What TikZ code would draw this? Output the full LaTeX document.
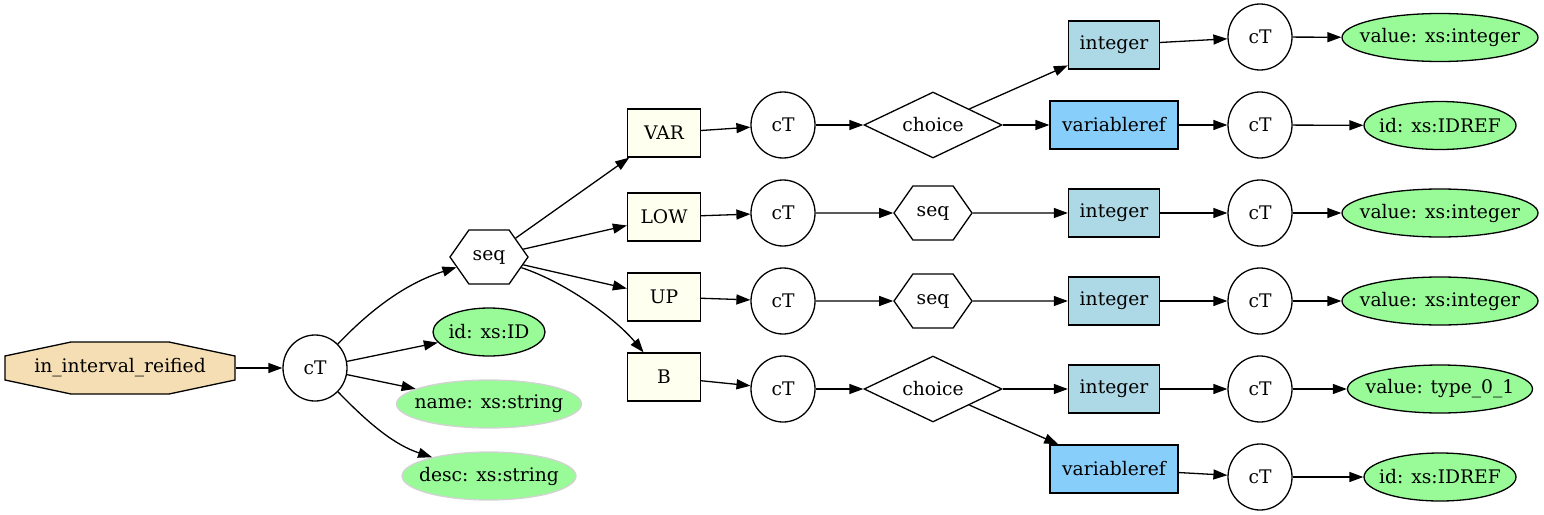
\documentclass[tikz,border=0pt]{standalone}
\usepackage{fontspec}
\setmainfont{DejaVu Serif}
\usetikzlibrary{shapes.geometric,shapes.symbols,arrows.meta}
\definecolor{wheatc}{HTML}{F5DEB3}
\definecolor{ivoryc}{HTML}{FFFFF0}
\definecolor{lightbluec}{HTML}{ADD8E6}
\definecolor{skybluec}{HTML}{87CEFA}
\definecolor{palegreenc}{HTML}{98FB98}
\definecolor{lightgrayc}{HTML}{D3D3D3}
\newcommand{\zb}[1]{\makebox[0pt][c]{#1}}
\begin{document}
\begin{tikzpicture}[x=1pt,y=-1pt,
  every node/.style={font=\fontsize{18.7pt}{22pt}\selectfont, inner sep=0pt, line width=1.3pt},
  ctnode/.style={ellipse, draw, minimum width=64pt, minimum height=66pt},
  hexnode/.style={signal, signal to=east and west, signal pointer angle=110, draw, minimum width=78pt, minimum height=54pt},
  choicenode/.style={diamond, draw, aspect=2.1, minimum width=138pt, minimum height=66pt},
  elemnode/.style={rectangle, draw, fill=ivoryc, minimum width=73pt, minimum height=48pt},
  intnode/.style={rectangle, draw, fill=lightbluec, minimum width=91pt, minimum height=48pt},
  refnode/.style={rectangle, draw, fill=skybluec, minimum width=128pt, minimum height=48pt},
  attrnode/.style={ellipse, draw, fill=palegreenc, minimum height=48pt},
  optattr/.style={ellipse, draw=lightgrayc, fill=palegreenc, minimum height=48pt},
  rootnode/.style={rectangle, minimum width=230pt, minimum height=52pt},
  edge/.style={draw, line width=1.3pt, -{Triangle[length=14pt,width=10pt]}}]
\useasboundingbox (0,0) rectangle (1544,514);

% root octagon
\filldraw[fill=wheatc, line width=1.3pt] (5,356) -- (71,342) -- (169,342) -- (235,356) -- (235,380) -- (169,394) -- (71,394) -- (5,380) -- cycle;
\node[rootnode] (root) at (120,368) {in\_interval\_reified};

\node[ctnode] (ct0) at (315,368) {cT};
\node[hexnode] (seqA) at (489,257) {seq};
\node[attrnode, minimum width=112pt] (aid) at (489,332) {\zb{id: xs:ID}};
\node[optattr, minimum width=185pt] (aname) at (489,404) {\zb{name: xs:string}};
\node[optattr, minimum width=174pt] (adesc) at (489,476) {\zb{desc: xs:string}};

\node[elemnode] (var) at (664,133) {VAR};
\node[elemnode] (low) at (664,217) {LOW};
\node[elemnode] (up) at (664,297) {UP};
\node[elemnode] (bb) at (664,377) {B};

\node[ctnode] (cvar) at (783,125) {cT};
\node[ctnode] (clow) at (783,213) {cT};
\node[ctnode] (cup) at (783,301) {cT};
\node[ctnode] (cbb) at (783,389) {cT};

\node[choicenode] (choiceA) at (933,125) {choice};
\node[hexnode] (seqB) at (933,213) {seq};
\node[hexnode] (seqC) at (933,301) {seq};
\node[choicenode] (choiceB) at (933,389) {choice};

\node[intnode] (intA) at (1114,45) {integer};
\node[refnode] (refA) at (1114,125) {variableref};
\node[intnode] (intB) at (1114,213) {integer};
\node[intnode] (intC) at (1114,301) {integer};
\node[intnode] (intD) at (1114,389) {integer};
\node[refnode] (refB) at (1114,469) {variableref};

\node[ctnode] (cintA) at (1260,37) {cT};
\node[ctnode] (crefA) at (1260,125) {cT};
\node[ctnode] (cintB) at (1260,213) {cT};
\node[ctnode] (cintC) at (1260,301) {cT};
\node[ctnode] (cintD) at (1260,389) {cT};
\node[ctnode] (crefB) at (1260,477) {cT};

\node[attrnode, minimum width=196pt] (vA) at (1440,37.5) {\zb{value: xs:integer}};
\node[attrnode, minimum width=152pt] (vrA) at (1440,125.5) {\zb{id: xs:IDREF}};
\node[attrnode, minimum width=196pt] (vB) at (1440,213) {\zb{value: xs:integer}};
\node[attrnode, minimum width=196pt] (vC) at (1440,301) {\zb{value: xs:integer}};
\node[attrnode, minimum width=185pt] (vD) at (1440,389) {\zb{value: type\_0\_1}};
\node[attrnode, minimum width=152pt] (vrB) at (1440,477) {\zb{id: xs:IDREF}};

% connectors
\path[edge] (root) -- (ct0);
\path[edge] (ct0) .. controls (375,305) and (410,282) .. (seqA);
\path[edge] (ct0) -- (aid);
\path[edge] (ct0) -- (aname);
\path[edge] (ct0) .. controls (370,425) and (395,445) .. (adesc);

\path[edge] (seqA) -- (var);
\path[edge] (seqA) -- (low);
\path[edge] (seqA) -- (up);
\path[edge] (seqA) .. controls (565,282) and (615,318) .. (bb);

\path[edge] (var) -- (cvar);
\path[edge] (low) -- (clow);
\path[edge] (up) -- (cup);
\path[edge] (bb) -- (cbb);

\path[edge] (cvar) -- (choiceA);
\path[edge] (clow) -- (seqB);
\path[edge] (cup) -- (seqC);
\path[edge] (cbb) -- (choiceB);

\path[edge] (choiceA) -- (intA);
\path[edge] (choiceA) -- (refA);
\path[edge] (seqB) -- (intB);
\path[edge] (seqC) -- (intC);
\path[edge] (choiceB) -- (intD);
\path[edge] (choiceB) -- (refB);

\path[edge] (intA) -- (cintA);
\path[edge] (refA) -- (crefA);
\path[edge] (intB) -- (cintB);
\path[edge] (intC) -- (cintC);
\path[edge] (intD) -- (cintD);
\path[edge] (refB) -- (crefB);

\path[edge] (cintA) -- (vA);
\path[edge] (crefA) -- (vrA);
\path[edge] (cintB) -- (vB);
\path[edge] (cintC) -- (vC);
\path[edge] (cintD) -- (vD);
\path[edge] (crefB) -- (vrB);
\end{tikzpicture}
\end{document}
